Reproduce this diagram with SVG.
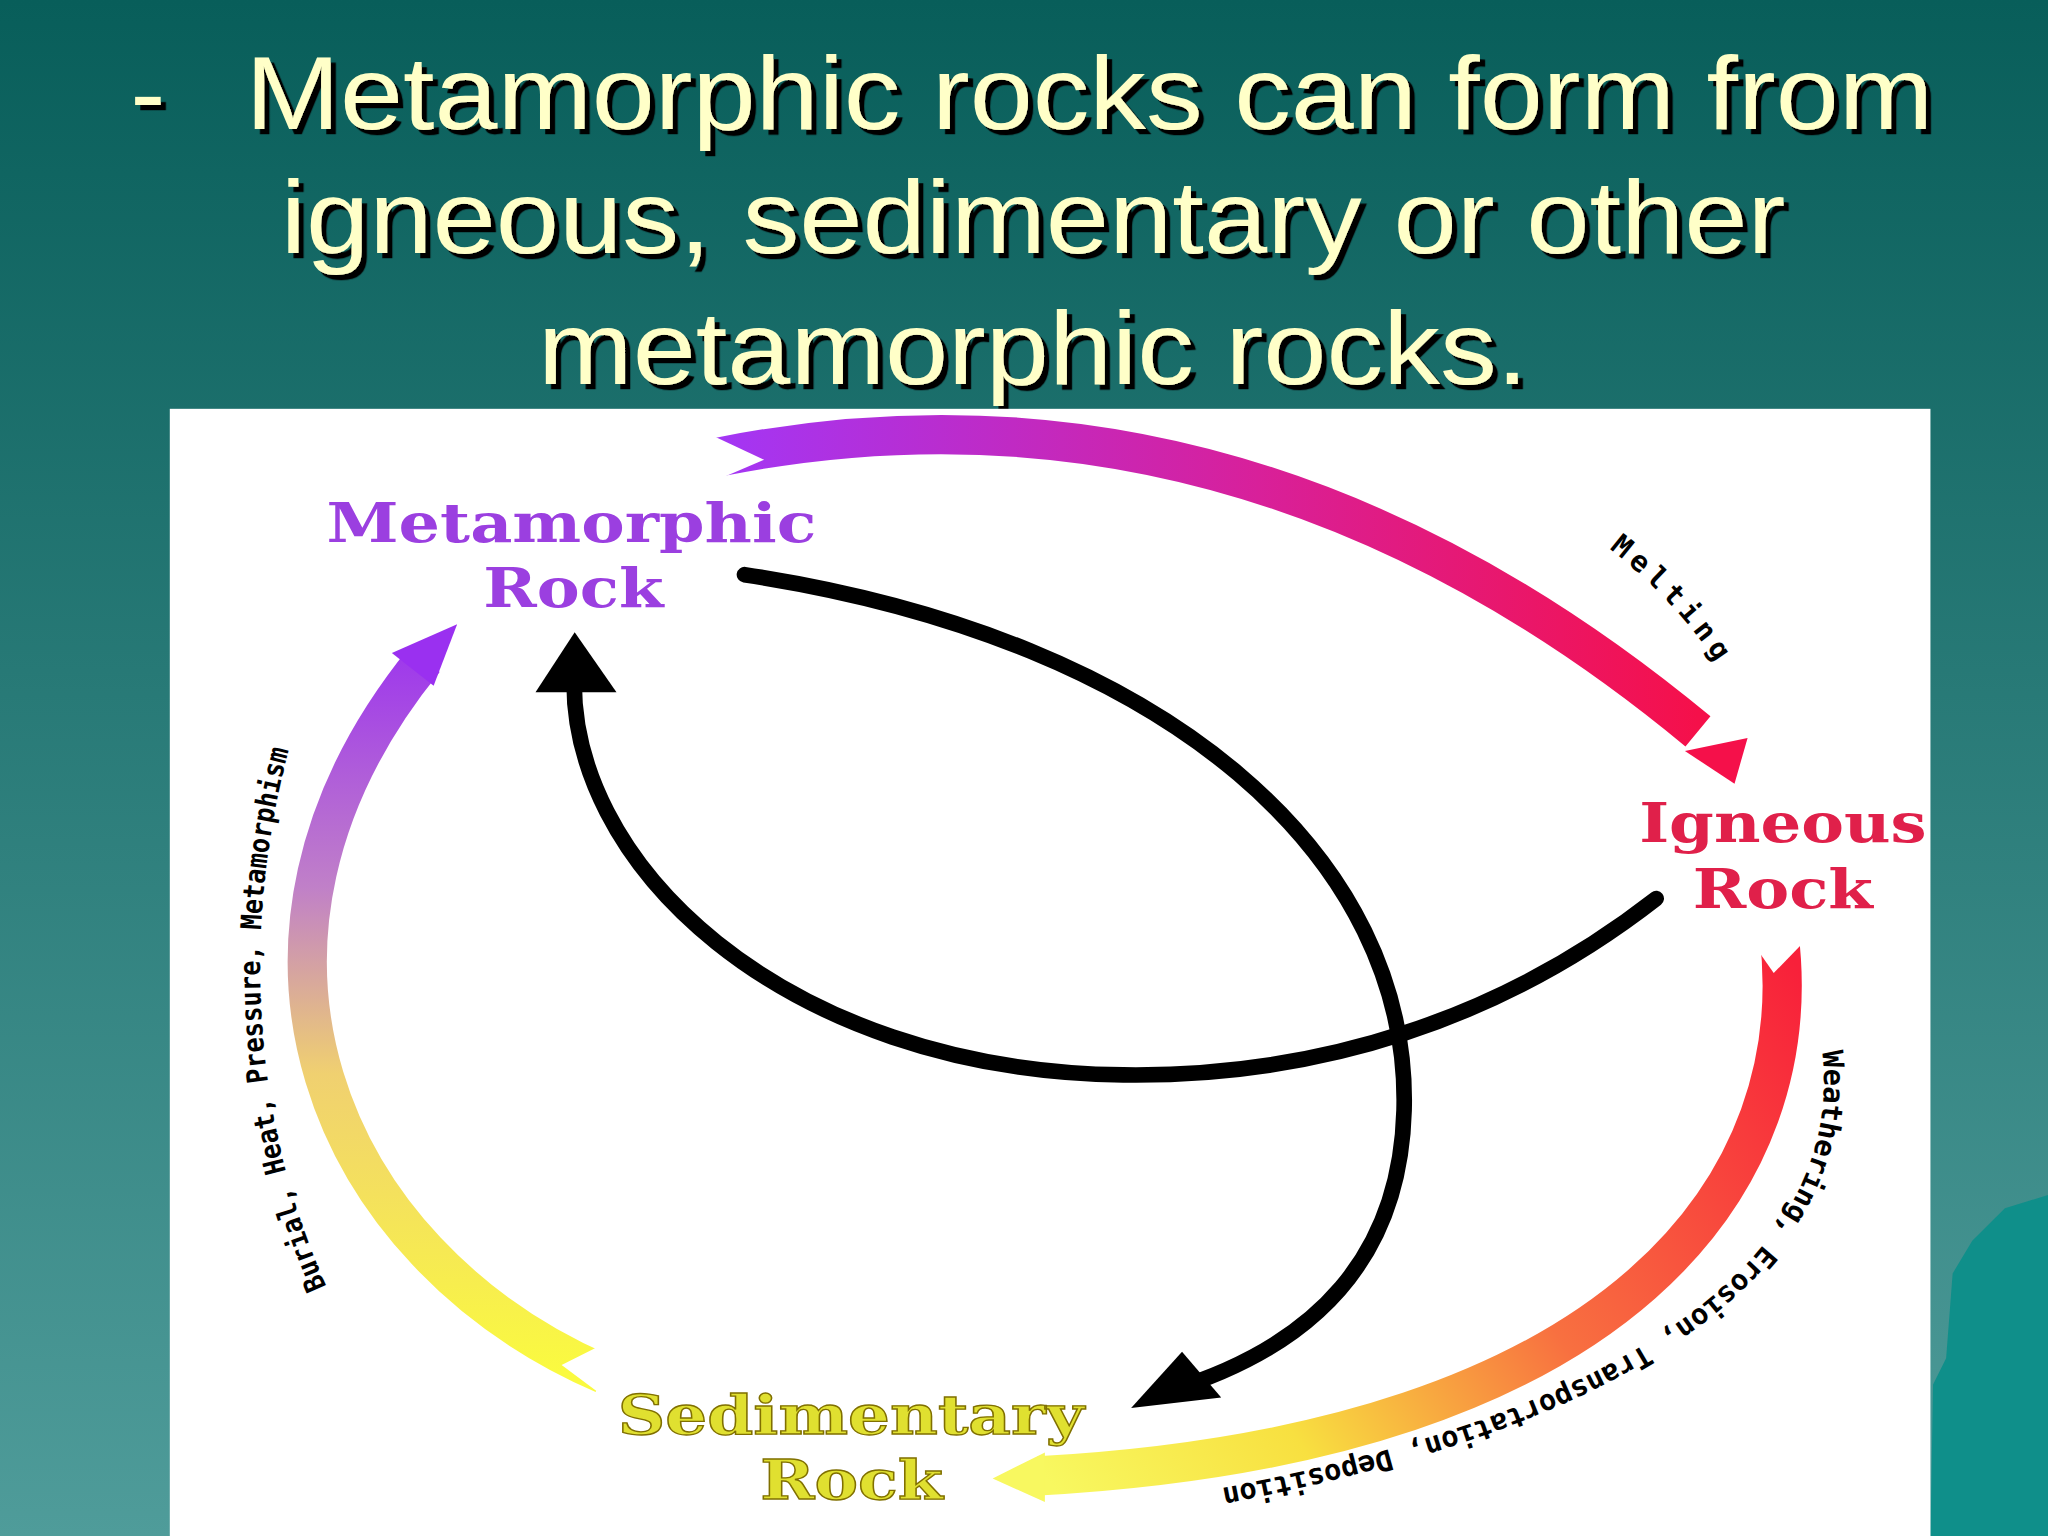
<svg xmlns="http://www.w3.org/2000/svg" width="2048" height="1536" viewBox="0 0 2048 1536">
<defs>
<linearGradient id="bg" x1="0" y1="0" x2="0" y2="1"><stop offset="0" stop-color="#085e5a"/><stop offset="1" stop-color="#4f9c9a"/></linearGradient>
<linearGradient id="gTop" x1="0" y1="0" x2="1" y2="0"><stop offset="0" stop-color="#a336f5"/><stop offset="0.55" stop-color="#d8209a"/><stop offset="1" stop-color="#f5104a"/></linearGradient>
<linearGradient id="gRight" gradientUnits="userSpaceOnUse" x1="1370" y1="730" x2="800" y2="1130"><stop offset="0" stop-color="#f8203a"/><stop offset="0.45" stop-color="#f87040"/><stop offset="0.75" stop-color="#f8e040"/><stop offset="1" stop-color="#f8f860"/></linearGradient>
<linearGradient id="gLeft" gradientUnits="userSpaceOnUse" x1="0" y1="1050" x2="0" y2="480"><stop offset="0" stop-color="#fafa40"/><stop offset="0.4" stop-color="#f0d070"/><stop offset="0.65" stop-color="#c080c8"/><stop offset="1" stop-color="#9a30f0"/></linearGradient>
<filter id="shadow" x="-5%" y="-20%" width="110%" height="140%"><feDropShadow dx="4" dy="4" stdDeviation="0" flood-color="#000"/></filter>
<style>
.t{font-family:"Liberation Sans",Arial,sans-serif;font-size:80px;fill:#ffffc8}
.lbl{font-family:"DejaVu Serif","Liberation Serif",serif;font-weight:bold;font-size:42px}
.arc{fill:none;stroke-width:30}
.blk{fill:none;stroke:#000;stroke-width:12;stroke-linecap:round}
.small{font-family:"DejaVu Sans Mono","Liberation Mono",monospace;font-weight:bold;font-size:22px;fill:#000}
</style>
<path id="pMelt" d="M1232,420 Q1290,465 1325,525"/>
<path id="pWeath" d="M1395,805 C1410,930 1310,1080 875,1150"/>
<path id="pBur" d="M250,985 C190,850 185,700 225,560"/>
</defs>
<g transform="scale(1.30612)">
<rect width="1568" height="1176" fill="url(#bg)"/>
<path d="M1568,915 L1535,925 L1510,950 L1495,975 L1490,1040 L1480,1060 L1478,1176 L1568,1176 Z" fill="#0f8f8a"/>
<g id="title" filter="url(#shadow)">
<text class="t" x="100" y="99">-</text>
<text class="t" x="188" y="99" textLength="1292" lengthAdjust="spacingAndGlyphs">Metamorphic rocks can form from</text>
<text class="t" x="215" y="194" textLength="1152" lengthAdjust="spacingAndGlyphs">igneous, sedimentary or other</text>
<text class="t" x="412" y="294" textLength="758" lengthAdjust="spacingAndGlyphs">metamorphic rocks.</text>
</g>
<rect x="130" y="313" width="1348" height="863" fill="#fff"/>
<g id="connectors">
<path class="arc" stroke="url(#gTop)" d="M550,350 Q950,270 1300,560"/>
<polygon points="538,330 538,372 585,352" fill="#fff"/>
<polygon points="1290,575 1338,565 1328,600" fill="#f5104a"/>
<path class="arc" stroke="url(#gRight)" d="M1362,715 C1385,900 1250,1105 795,1130"/>
<polygon points="1335,712 1390,712 1358,745" fill="#fff"/>
<polygon points="760,1132 800,1112 800,1150" fill="#f8f860"/>
<path class="arc" stroke="url(#gLeft)" d="M462,1052 C250,960 150,720 325,505"/>
<polygon points="470,1025 470,1075 430,1045" fill="#fff"/>
<polygon points="350,478 300,500 332,525" fill="#9a30f0"/>
<path class="blk" d="M570,440 C900,490 1080,660 1075,850 C1072,960 1010,1030 895,1065"/>
<polygon points="866,1078 905,1035 935,1070" fill="#000"/>
<path class="blk" d="M1268,688 C1150,780 1010,825 860,823 C600,820 430,660 440,510"/>
<polygon points="440,484 410,530 472,530" fill="#000"/>
</g>
<g id="metamorphic"><text class="lbl" fill="#9b3fe0" x="250" y="415" textLength="375" lengthAdjust="spacingAndGlyphs">Metamorphic</text><text class="lbl" fill="#9b3fe0" x="370" y="465" textLength="138" lengthAdjust="spacingAndGlyphs">Rock</text></g>
<g id="igneous"><text class="lbl" fill="#e0204a" x="1255" y="645" textLength="220" lengthAdjust="spacingAndGlyphs">Igneous</text><text class="lbl" fill="#e0204a" x="1296" y="695" textLength="138" lengthAdjust="spacingAndGlyphs">Rock</text></g>
<g id="sedimentary"><text class="lbl" fill="#e0e030" stroke="#807000" stroke-width="1" x="473" y="1098" textLength="357" lengthAdjust="spacingAndGlyphs">Sedimentary</text><text class="lbl" fill="#e0e030" stroke="#807000" stroke-width="1" x="582" y="1148" textLength="140" lengthAdjust="spacingAndGlyphs">Rock</text></g>
<text class="small"><textPath href="#pMelt" textLength="120">Melting</textPath></text>
<text class="small"><textPath href="#pWeath">Weathering, Erosion, Transportation, Deposition</textPath></text>
<text class="small" font-size="20"><textPath href="#pBur" textLength="420" lengthAdjust="spacingAndGlyphs">Burial, Heat, Pressure, Metamorphism</textPath></text>
</g>
</svg>
